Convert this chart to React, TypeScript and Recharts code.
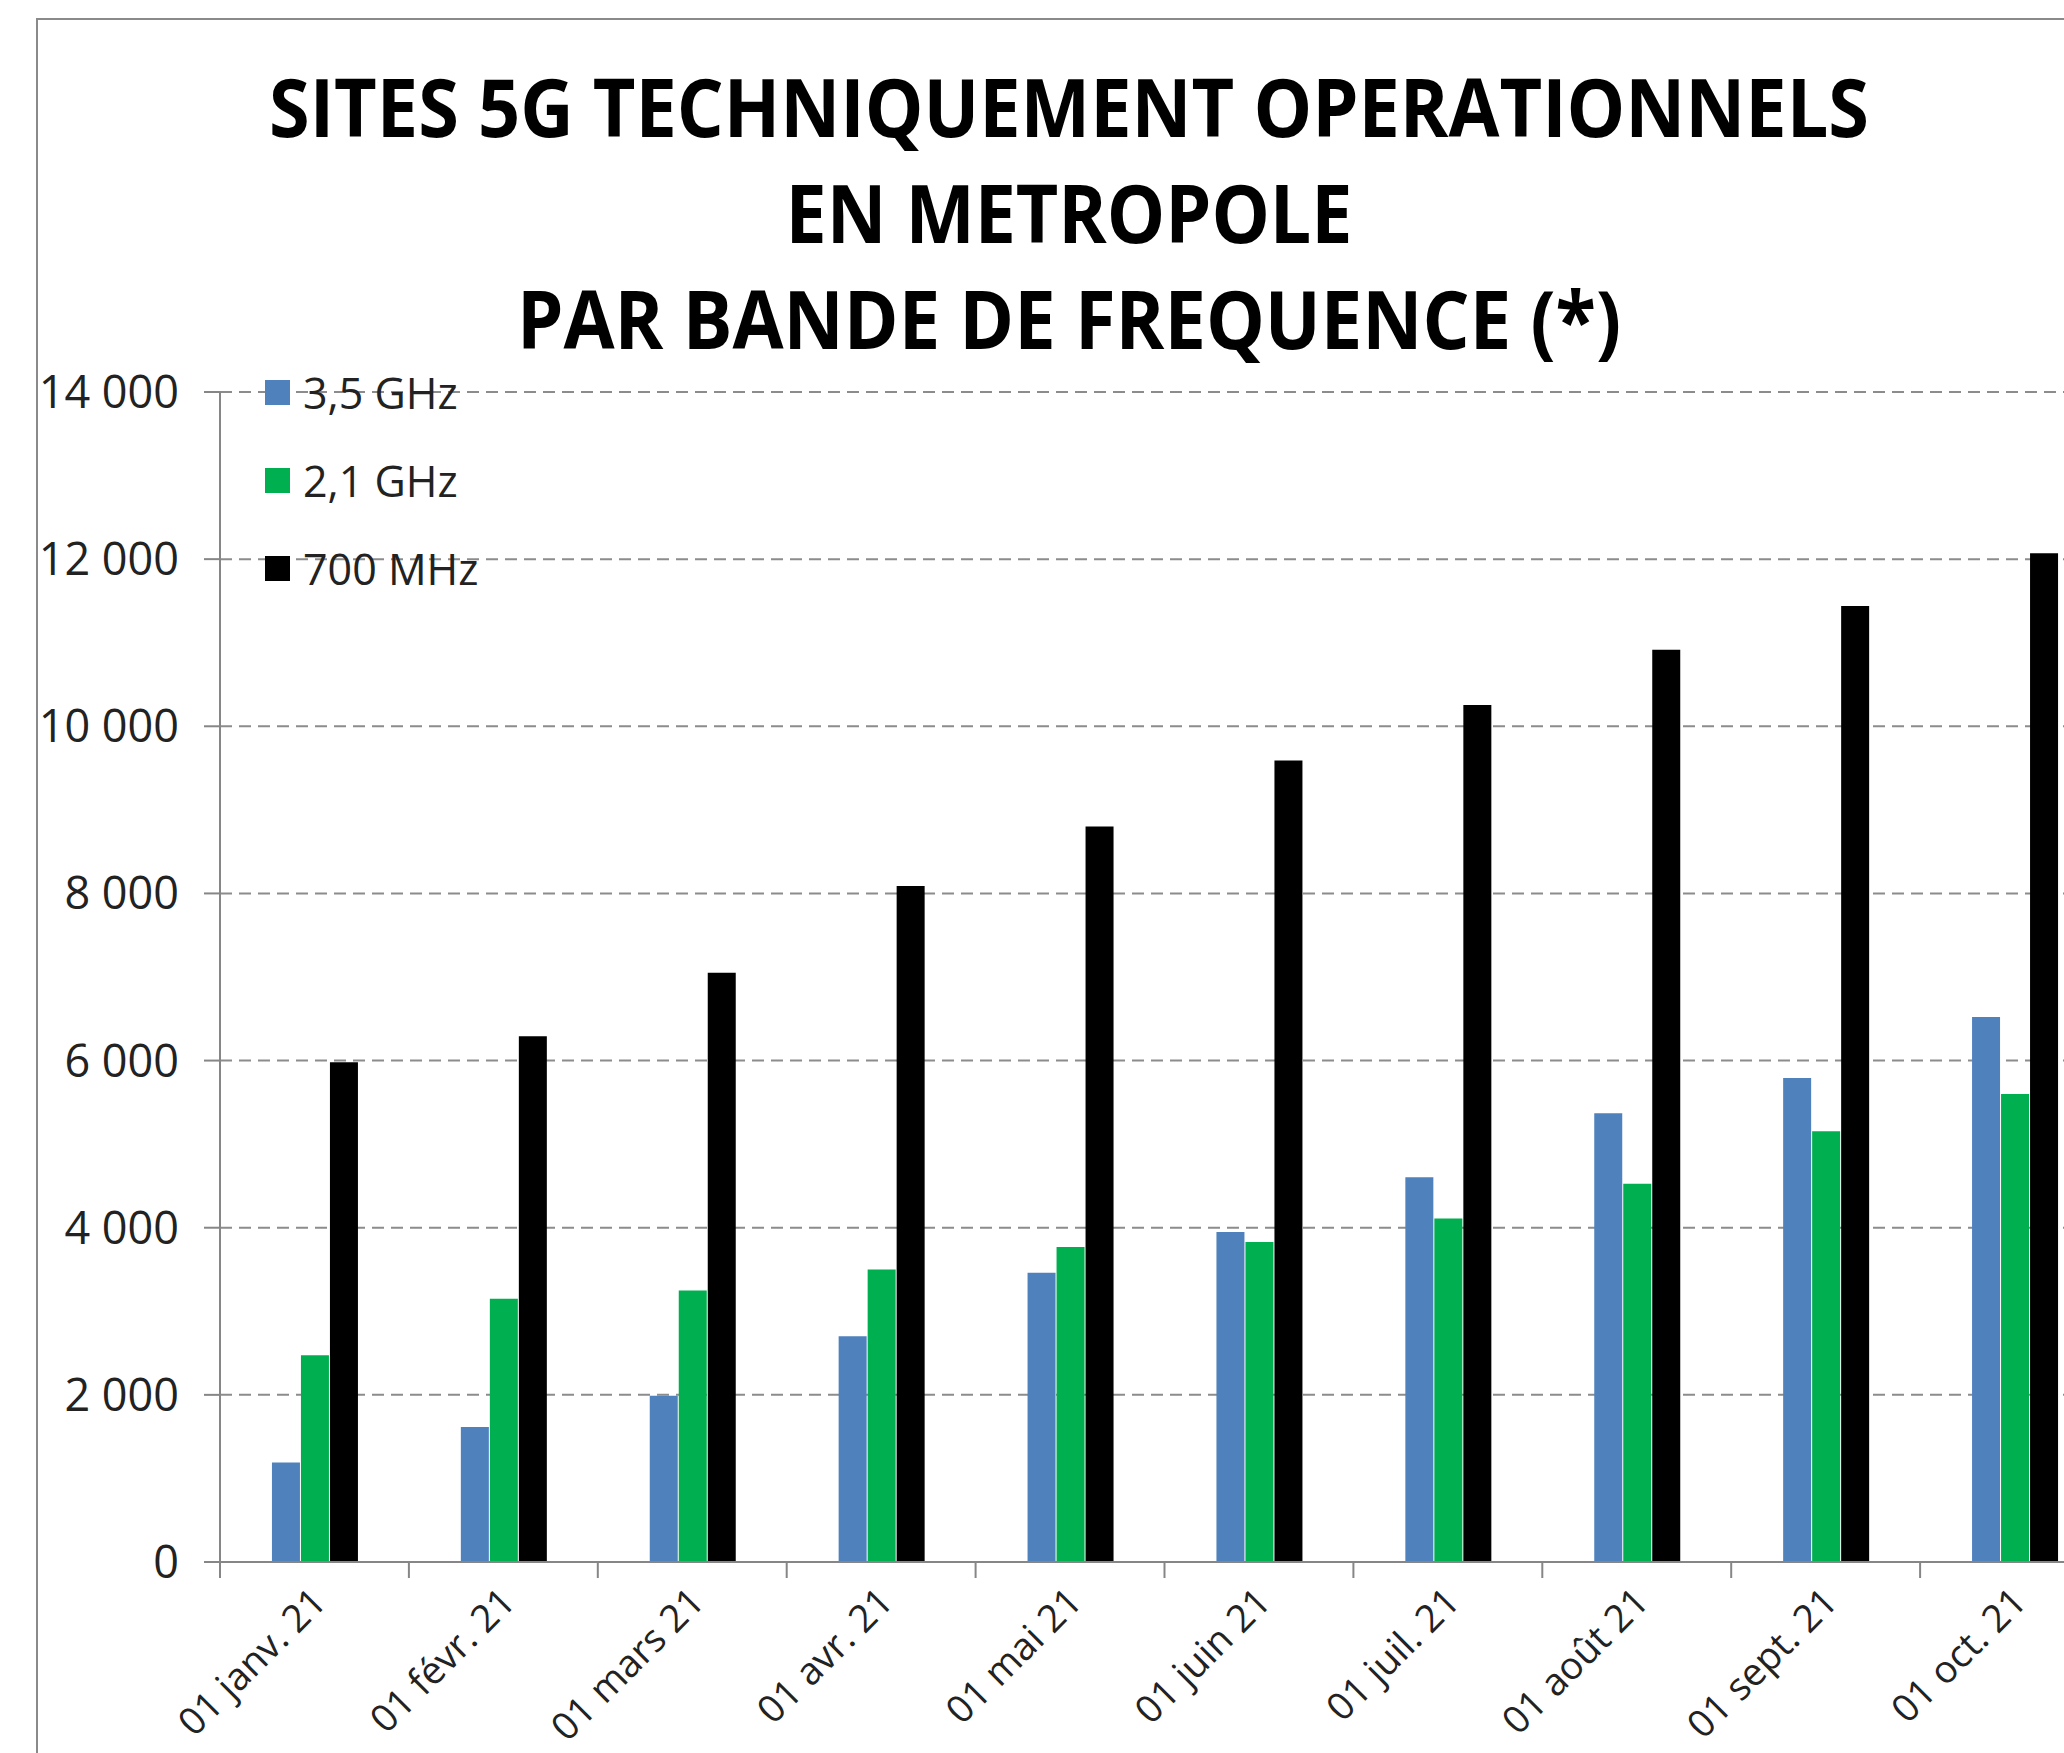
import React from 'react';
import { BarChart, Bar, XAxis, YAxis, CartesianGrid, Legend } from 'recharts';

// ---- data ----
const MONTHS = [
  '01 janv. 21', '01 févr. 21', '01 mars 21', '01 avr. 21', '01 mai 21',
  '01 juin 21', '01 juil. 21', '01 août 21', '01 sept. 21', '01 oct. 21',
];
const SITES_3_5_GHZ = [1190, 1615, 1990, 2700, 3460, 3950, 4605, 5370, 5790, 6520];
const SITES_2_1_GHZ = [2475, 3150, 3250, 3500, 3770, 3830, 4110, 4525, 5155, 5600];
const SITES_700_MHZ = [5980, 6290, 7050, 8090, 8800, 9590, 10255, 10915, 11440, 12070];
const Y_TICKS = [0, 2000, 4000, 6000, 8000, 10000, 12000, 14000];
const SERIES_NAMES = ['3,5 GHz', '2,1 GHz', '700 MHz'];
const TITLE_LINES = [
  'SITES 5G TECHNIQUEMENT OPERATIONNELS',
  'EN METROPOLE',
  'PAR BANDE DE FREQUENCE (*)',
];

// ---- styling / layout ----
const COLORS = ['#4F81BD', '#00B050', '#000000'];
const KEYS = ['b35', 'b21', 'b700'];
const TITLE_WIDTHS = [1600, 567, 1104];
const TEXT = '#222222';
const AXIS = '#868686';
const FONT = '"Open Sans", "Noto Sans", sans-serif';

const data = MONTHS.map((m, i) => ({
  month: m,
  b35: SITES_3_5_GHZ[i],
  b21: SITES_2_1_GHZ[i],
  b700: SITES_700_MHZ[i],
}));

const fmt = (v: number) => String(v).replace(/\B(?=(\d{3})+(?!\d))/g, ' ');

const CHART_W = 2124;
const CHART_H = 1753;
const MARGIN = { top: 392, right: 15, bottom: 0, left: 0 };
const Y_W = 220;
const X_H = 191;
const BAND = (CHART_W - MARGIN.right - MARGIN.left - Y_W) / MONTHS.length;

const XTick = (props: any) => {
  const { x, y, payload } = props;
  const half = payload && typeof payload.offset === 'number' && payload.offset > 0 ? payload.offset : BAND / 2;
  const tx = x + 14;
  const ty = y + 42;
  return (
    <g>
      <line x1={x - half} x2={x - half} y1={y} y2={y + 16} stroke={AXIS} strokeWidth={2} />
      <text
        x={tx}
        y={ty}
        transform={`rotate(-45 ${tx} ${ty})`}
        textAnchor="end"
        fontSize={38}
        fontFamily={FONT}
        fill={TEXT}
      >
        {payload.value}
      </text>
    </g>
  );
};

const LegendContent = () => (
  <div style={{ display: 'flex', flexDirection: 'column' }}>
    {SERIES_NAMES.map((n, i) => (
      <div key={n} style={{ height: 88, display: 'flex', alignItems: 'center' }}>
        <div style={{ width: 25, height: 25, background: COLORS[i], marginRight: 13 }} />
        <span style={{ fontFamily: FONT, fontSize: 43, color: TEXT, lineHeight: 1, whiteSpace: 'nowrap' }}>{n}</span>
      </div>
    ))}
  </div>
);

export default function App() {
  return (
    <div
      style={{
        position: 'absolute',
        left: 0,
        top: 0,
        width: 2064,
        height: 1753,
        overflow: 'hidden',
        background: '#ffffff',
      }}
    >
      <div
        style={{
          position: 'absolute',
          left: 36,
          top: 18,
          width: 2200,
          height: 1900,
          border: '2px solid #8a8a8a',
          boxSizing: 'border-box',
        }}
      />
      <div style={{ position: 'absolute', left: 0, top: 0 }}>
        <BarChart
          width={CHART_W}
          height={CHART_H}
          data={data}
          margin={MARGIN}
          barCategoryGap="27.5%"
          barGap={1}
        >
          <CartesianGrid vertical={false} stroke="#8c8c8c" strokeWidth={2} strokeDasharray="12 7" />
          <XAxis
            dataKey="month"
            height={X_H}
            interval={0}
            axisLine={{ stroke: AXIS, strokeWidth: 2 }}
            tickLine={false}
            tickSize={0}
            tickMargin={0}
            tick={<XTick />}
          />
          <YAxis
            width={Y_W}
            domain={[0, 14000]}
            ticks={Y_TICKS}
            interval={0}
            tickFormatter={fmt}
            axisLine={{ stroke: AXIS, strokeWidth: 2 }}
            tickLine={{ stroke: AXIS, strokeWidth: 2 }}
            tickSize={16}
            tickMargin={25}
            tick={{ fontSize: 45, fontFamily: FONT, fill: TEXT }}
          />
          <Legend
            layout="vertical"
            align="center"
            verticalAlign="middle"
            wrapperStyle={{ left: 265, top: 348, width: 320 }}
            content={<LegendContent />}
          />
          {KEYS.map((k, i) => (
            <Bar key={k} dataKey={k} name={SERIES_NAMES[i]} fill={COLORS[i]} isAnimationActive={false} />
          ))}
        </BarChart>
      </div>
      <svg
        width={2064}
        height={400}
        style={{ position: 'absolute', left: 0, top: 0, pointerEvents: 'none' }}
      >
        {TITLE_LINES.map((t, i) => (
          <text
            key={t}
            x={1069}
            y={137 + i * 106}
            textAnchor="middle"
            fontFamily={FONT}
            fontWeight={700}
            fontSize={81}
            fill="#000000"
            textLength={TITLE_WIDTHS[i]}
            lengthAdjust="spacingAndGlyphs"
          >
            {t}
          </text>
        ))}
      </svg>
    </div>
  );
}
